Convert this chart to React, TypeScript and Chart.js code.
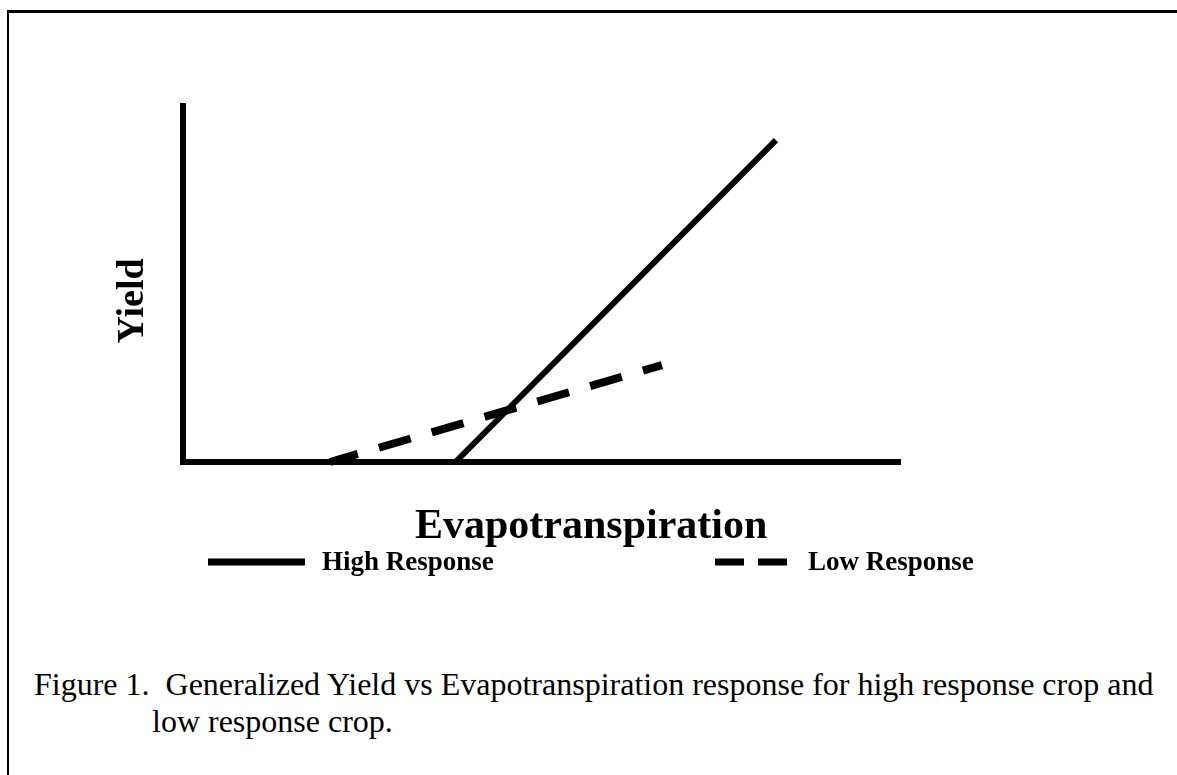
import React, { useEffect, useRef } from "react";
import { Chart, registerables } from "chart.js";

Chart.register(...registerables);

// ---- data ----
const xRange = [0, 10];
const yRange = [0, 10];
const highResponseX = [3.8, 8.27];
const highResponseY = [0, 9.04];
const lowResponseX = [2.05, 6.68];
const lowResponseY = [0, 2.72];
const seriesLabels = ["High Response", "Low Response"];
const xAxisTitle = "Evapotranspiration";
const yAxisTitle = "Yield";
const captionLines = [
  "Figure 1.\u00a0\u00a0Generalized Yield vs Evapotranspiration response for high response crop and",
  "low response crop.",
];

const SERIF = "'Liberation Serif', 'Times New Roman', Times, serif";

// legend samples drawn under the axis title, using each dataset's label and colour
const legendSamples = [
  { x: 208, len: 97, dash: [] as number[] },
  { x: 715, len: 72, dash: [29, 14] },
];
const LEGEND_Y = 562;

const figureText = {
  id: "figureText",
  afterDraw(chart: any) {
    const ctx = chart.ctx as CanvasRenderingContext2D;
    const area = chart.chartArea;

    // axis titles
    ctx.save();
    ctx.fillStyle = "#000";
    ctx.font = `bold 42px ${SERIF}`;
    ctx.textAlign = "left";
    ctx.textBaseline = "middle";
    ctx.fillText(xAxisTitle, 415, area.bottom + 65);
    ctx.translate(133, 301);
    ctx.rotate(-Math.PI / 2);
    ctx.font = `bold 38px ${SERIF}`;
    ctx.textAlign = "center";
    ctx.fillText(yAxisTitle, 0, 0);
    ctx.restore();

    // legend
    chart.data.datasets.forEach((ds: any, i: number) => {
      const s = legendSamples[i];
      if (!s) return;
      ctx.save();
      ctx.strokeStyle = ds.borderColor;
      ctx.lineWidth = 7;
      ctx.lineCap = "butt";
      ctx.setLineDash(s.dash);
      ctx.beginPath();
      ctx.moveTo(s.x, LEGEND_Y);
      ctx.lineTo(s.x + s.len, LEGEND_Y);
      ctx.stroke();
      ctx.setLineDash([]);
      ctx.fillStyle = "#000";
      ctx.font = `bold 27px ${SERIF}`;
      ctx.textBaseline = "middle";
      ctx.textAlign = "left";
      ctx.fillText(ds.label, s.x + s.len + 17 + (i === 1 ? 4 : 0), LEGEND_Y + 1);
      ctx.restore();
    });
  },
};

function toPoints(xs: number[], ys: number[]) {
  return xs.map((x, i) => ({ x, y: ys[i] }));
}

export default function App() {
  const canvasRef = useRef<HTMLCanvasElement | null>(null);

  useEffect(() => {
    if (!canvasRef.current) return;
    const chart = new Chart(canvasRef.current, {
      type: "scatter",
      data: {
        datasets: [
          {
            label: seriesLabels[0],
            data: toPoints(highResponseX, highResponseY),
            showLine: true,
            borderColor: "#000",
            backgroundColor: "#000",
            borderWidth: 6,
            pointRadius: 0,
            clip: false,
          } as any,
          {
            label: seriesLabels[1],
            data: toPoints(lowResponseX, lowResponseY),
            showLine: true,
            borderColor: "#000",
            backgroundColor: "#000",
            borderWidth: 8,
            borderDash: [33, 22],
            borderDashOffset: 4,
            pointRadius: 0,
            clip: false,
          } as any,
        ],
      },
      options: {
        animation: false,
        responsive: false,
        maintainAspectRatio: false,
        events: [],
        layout: { padding: { top: 106, left: 183, right: 277, bottom: 138 } },
        plugins: {
          legend: { display: false },
          tooltip: { enabled: false },
        },
        scales: {
          x: {
            type: "linear",
            min: xRange[0],
            max: xRange[1],
            grid: { display: false, drawTicks: false },
            ticks: { display: false },
            border: { display: true, color: "#000", width: 6 },
            title: { display: false, text: xAxisTitle },
          },
          y: {
            type: "linear",
            min: yRange[0],
            max: yRange[1],
            grid: { display: false, drawTicks: false },
            ticks: { display: false },
            border: { display: true, color: "#000", width: 6 },
            title: { display: false, text: yAxisTitle },
          },
        },
      },
      plugins: [figureText],
    });
    return () => chart.destroy();
  }, []);

  return (
    <div
      style={{
        position: "absolute",
        left: 0,
        top: 0,
        width: 1177,
        height: 775,
        overflow: "hidden",
        background: "#fff",
      }}
    >
      <div
        style={{
          position: "absolute",
          left: 7,
          top: 10,
          width: 1200,
          height: 800,
          borderTop: "3px solid #000",
          borderLeft: "2px solid #000",
        }}
      />
      <canvas
        ref={canvasRef}
        width={1177}
        height={600}
        style={{ position: "absolute", left: 0, top: 0, display: "block" }}
      />
      <div
        style={{
          position: "absolute",
          left: 34,
          top: 666,
          fontFamily: SERIF,
          fontSize: 32,
          lineHeight: "37px",
          color: "#000",
          whiteSpace: "nowrap",
        }}
      >
        <div>{captionLines[0]}</div>
        <div style={{ paddingLeft: 118 }}>{captionLines[1]}</div>
      </div>
    </div>
  );
}
